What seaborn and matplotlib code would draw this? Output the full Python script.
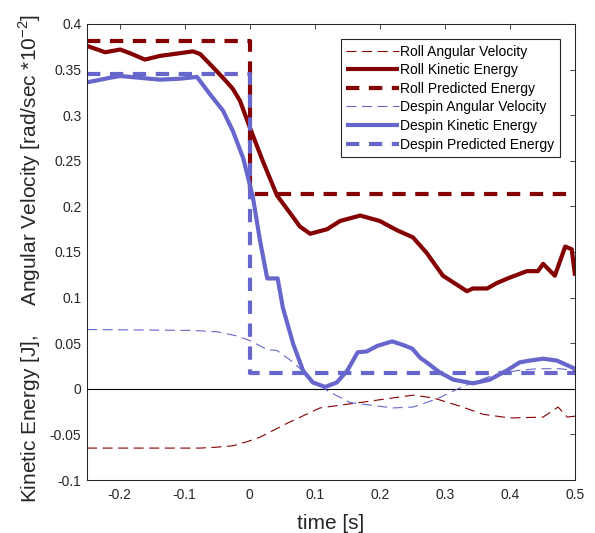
import matplotlib
matplotlib.use("Agg")
import matplotlib.pyplot as plt
import seaborn as sns
import numpy as np
import pandas as pd

# ---------------- data ----------------
roll_ke_t = [-0.25, -0.222, -0.199, -0.184, -0.161, -0.138, -0.107, -0.087, -0.076, -0.061,
             -0.041, -0.026, -0.015, 0.0, 0.020, 0.042, 0.067, 0.077, 0.093, 0.119,
             0.139, 0.170, 0.200, 0.226, 0.251, 0.272, 0.297, 0.334, 0.343, 0.365,
             0.380, 0.400, 0.426, 0.443, 0.451, 0.469, 0.485, 0.495, 0.5]
roll_ke = [0.376, 0.369, 0.372, 0.368, 0.361, 0.365, 0.368, 0.370, 0.367, 0.356,
           0.341, 0.329, 0.316, 0.287, 0.250, 0.212, 0.188, 0.178, 0.170, 0.175,
           0.184, 0.190, 0.184, 0.174, 0.166, 0.149, 0.124, 0.107, 0.110, 0.110,
           0.116, 0.122, 0.129, 0.129, 0.137, 0.124, 0.156, 0.153, 0.124]

despin_ke_t = [-0.25, -0.215, -0.199, -0.169, -0.138, -0.107, -0.081, -0.061, -0.041, -0.026,
               -0.010, 0.005, 0.016, 0.027, 0.043, 0.051, 0.067, 0.082, 0.097, 0.116,
               0.134, 0.150, 0.166, 0.180, 0.196, 0.219, 0.236, 0.250, 0.262, 0.272,
               0.292, 0.313, 0.343, 0.369, 0.395, 0.415, 0.431, 0.451, 0.472, 0.5]
despin_ke = [0.336, 0.341, 0.343, 0.341, 0.339, 0.340, 0.342, 0.323, 0.305, 0.283,
             0.253, 0.210, 0.162, 0.121, 0.121, 0.089, 0.049, 0.020, 0.007, 0.002,
             0.007, 0.020, 0.040, 0.041, 0.047, 0.052, 0.048, 0.044, 0.034, 0.029,
             0.018, 0.010, 0.006, 0.010, 0.020, 0.029, 0.031, 0.033, 0.031, 0.022]

roll_av_t = [-0.25, -0.153, -0.076, -0.05, -0.026, -0.004, 0.016, 0.057, 0.108, 0.170,
             0.220, 0.251, 0.282, 0.323, 0.359, 0.400, 0.451, 0.474, 0.488, 0.5]
roll_av = [-0.065, -0.065, -0.065, -0.064, -0.0625, -0.058, -0.053, -0.038, -0.021, -0.015,
           -0.010, -0.007, -0.010, -0.019, -0.028, -0.032, -0.031, -0.020, -0.031, -0.030]

despin_av_t = [-0.25, -0.087, -0.05, -0.02, 0.0, 0.027, 0.042, 0.067, 0.097, 0.119,
               0.154, 0.220, 0.251, 0.288, 0.323, 0.374, 0.411, 0.442, 0.477, 0.5]
despin_av = [0.065, 0.064, 0.0625, 0.058, 0.053, 0.043, 0.042, 0.029, 0.009, -0.002,
             -0.015, -0.021, -0.020, -0.011, 0.001, 0.015, 0.020, 0.022, 0.022, 0.020]

pred_t = [-0.25, 0.0, 0.0, 0.5]
roll_pred = [0.381, 0.381, 0.214, 0.214]
despin_pred = [0.345, 0.345, 0.017, 0.017]

x_ticks = [-0.2, -0.1, 0, 0.1, 0.2, 0.3, 0.4, 0.5]
x_tick_labels = ["-0.2", "-0.1", "0", "0.1", "0.2", "0.3", "0.4", "0.5"]
y_ticks = [-0.1, -0.05, 0, 0.05, 0.1, 0.15, 0.2, 0.25, 0.3, 0.35, 0.4]
y_tick_labels = ["-0.1", "-0.05", "0", "0.05", "0.1", "0.15", "0.2", "0.25", "0.3", "0.35", "0.4"]

labels = ["Roll Angular Velocity", "Roll Kinetic Energy", "Roll Predicted Energy",
          "Despin Angular Velocity", "Despin Kinetic Energy", "Despin Predicted Energy"]

# ---------------- style ----------------
sns.set_style("white")
plt.rcParams["font.family"] = ["Liberation Sans", "DejaVu Sans"]
plt.rcParams["axes.unicode_minus"] = False

RED = "#850000"
BLUE = "#6666CC"
AXC = "#262626"

fig = plt.figure(figsize=(5.95, 5.33), dpi=100)
ax = fig.add_axes([87 / 595, 1 - 480 / 533, 488 / 595, 456 / 533])

ax.axhline(0, color="black", lw=0.8, zorder=1)

series = [
    (roll_av_t, roll_av, RED, 0.8, (0, (9, 5))),
    (roll_ke_t, roll_ke, RED, 3.0, "-"),
    (pred_t, roll_pred, RED, 3.0, (0, (3.2, 2.3))),
    (despin_av_t, despin_av, BLUE, 0.8, (0, (9, 5))),
    (despin_ke_t, despin_ke, BLUE, 3.0, "-"),
    (pred_t, despin_pred, BLUE, 3.0, (0, (3.2, 2.3))),
]
for (t, v, c, lw, ls), lab in zip(series, labels):
    sns.lineplot(x=t, y=v, ax=ax, color=c, lw=lw, linestyle=ls, label=lab,
                 estimator=None, sort=False, solid_capstyle="butt", dash_capstyle="butt")

ax.set_xlim(-0.25, 0.5)
ax.set_ylim(-0.1, 0.4)
ax.set_xticks(x_ticks)
ax.set_xticklabels(x_tick_labels)
ax.set_yticks(y_ticks)
ax.set_yticklabels(y_tick_labels)
ax.tick_params(direction="in", top=True, right=True, length=3.6, width=0.6,
               color=AXC, labelcolor=AXC, labelsize=10)
ax.tick_params(axis="y", pad=4)
ax.tick_params(axis="x", pad=6)
for s in ax.spines.values():
    s.set_color(AXC)
    s.set_linewidth(0.75)

ax.set_xlabel("time [s]", fontsize=15, color=AXC)
ax.set_ylabel("Kinetic Energy [J],     Angular Velocity [rad/sec *10$^{\\mathregular{-2}}$]",
              fontsize=15, color=AXC)
ax.xaxis.set_label_coords(0.5, -0.075)
ax.yaxis.set_label_coords(-0.09, 0.486)

leg = ax.legend(loc="upper right", bbox_to_anchor=(0.969, 0.967), borderaxespad=0,
                fontsize=10, frameon=True, fancybox=False, framealpha=1,
                edgecolor=AXC, handlelength=3.75, handletextpad=0.12,
                labelspacing=0.33, borderpad=0.4)
leg.get_frame().set_linewidth(0.8)
for txt in leg.get_texts():
    txt.set_color("black")

fig.savefig("out.png", dpi=100)
